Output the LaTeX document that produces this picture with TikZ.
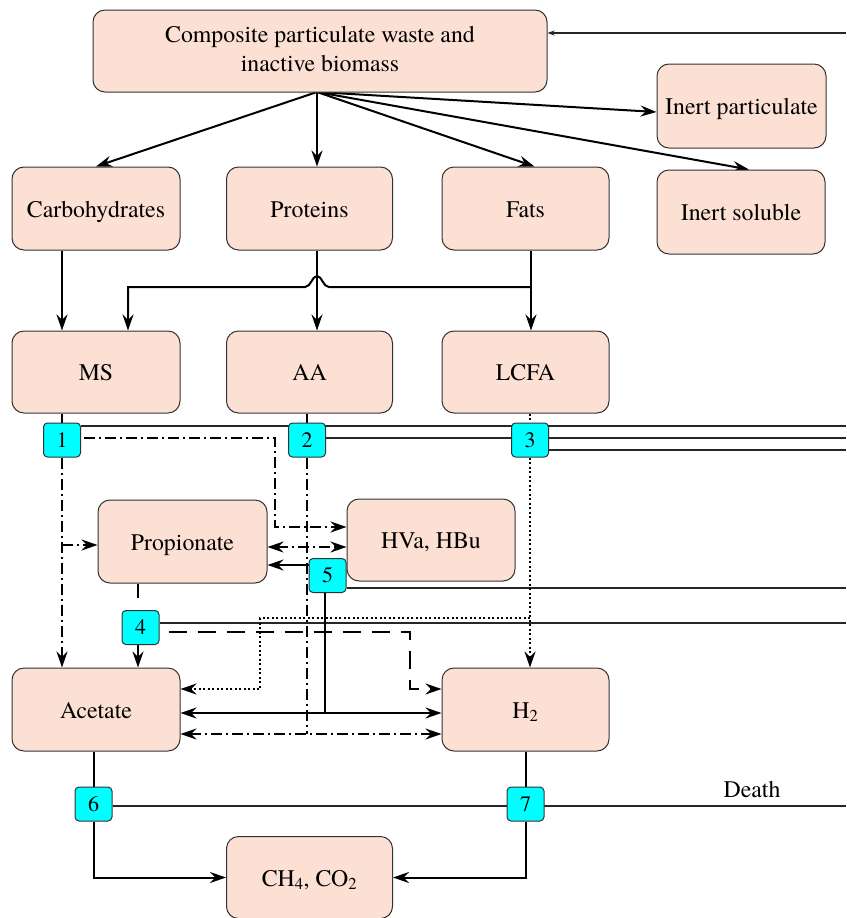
\documentclass[tikz,border=0pt]{standalone}
\usepackage{fontspec}
\setmainfont{TeX Gyre Termes}
\usetikzlibrary{arrows.meta,calc,backgrounds}
\definecolor{peach}{RGB}{252,224,211}
\definecolor{tagcyan}{RGB}{0,255,255}

\begin{document}
\begin{tikzpicture}[x=1pt,y=-1pt,
  boxcore/.style={draw=black!80, line width=1pt, fill=peach, rounded corners=12pt,
    minimum width=168pt, minimum height=83pt, inner sep=0pt, align=center,
    font=\fontsize{23.8}{29}\selectfont},
  box/.style={boxcore, text height=18pt, text depth=1pt},
  tag/.style={draw=black!80, line width=1pt, fill=tagcyan, rounded corners=4pt,
    minimum width=37pt, minimum height=34pt, inner sep=0pt,
    font=\fontsize{22}{22}\selectfont},
  conn/.style={line width=2pt, black},
  thinline/.style={line width=1.1pt, black!85},
  dd/.style={conn, dash pattern=on 11pt off 4pt on 2pt off 4pt},
  dotln/.style={conn, dash pattern=on 2pt off 2.5pt},
  dsh/.style={conn, dash pattern=on 18pt off 11pt},
  arr/.style={-{Stealth[length=16pt,width=11pt,inset=5.5pt]}},
  dbl/.style={{Stealth[length=16pt,width=11pt,inset=5.5pt]}-{Stealth[length=16pt,width=11pt,inset=5.5pt]}},
  smallarr/.style={-{Stealth[length=7pt,width=5pt,inset=2pt]}},
]
\useasboundingbox (0,0) rectangle (846,918);

% process boxes
\node[boxcore, minimum width=454pt, minimum height=82pt] (comp) at (320,51)
  {\raisebox{2pt}{\begin{tabular}{@{}c@{}}Composite particulate waste and\\inactive biomass\end{tabular}}};
\node[box, minimum width=169pt, minimum height=84pt] (inpart) at (741.5,106) {Inert particulate};
\node[box, minimum height=84pt] (insol) at (741,212) {Inert soluble};
\node[box] (carb) at (96,208.5) {Carbohydrates};
\node[box, minimum width=166pt] (prot) at (309.5,208.5) {Proteins};
\node[box, minimum width=167pt] (fats) at (525.5,208.5) {Fats};
\node[box, minimum height=82pt] (ms) at (96,372) {MS};
\node[box, minimum width=166pt, minimum height=82pt] (aa) at (309.5,372) {AA};
\node[box, minimum width=167pt, minimum height=82pt] (lcfa) at (525.5,372) {LCFA};
\node[box, minimum width=169pt] (prop) at (182.5,541.5) {Propionate};
\node[box, minimum height=82pt] (hva) at (431,540) {HVa, HBu};
\node[box] (acet) at (96,709.5) {Acetate};
\node[box, minimum width=167pt] (h2) at (525.5,709.5) {H\textsubscript{2}};
\node[box, minimum width=166pt, minimum height=82pt] (ch4) at (309.5,877.5)
  {CH\textsubscript{4}, CO\textsubscript{2}};

% process tags
\node[tag] (n1) at (62,440) {1};
\node[tag] (n2) at (307,440) {2};
\node[tag] (n3) at (530,440) {3};
\node[tag] (n4) at (140.5,627.5) {4};
\node[tag] (n5) at (327.5,575.5) {5};
\node[tag] (n6) at (93.5,804) {6};
\node[tag] (n7) at (525.5,804) {7};

\node[font=\fontsize{23.8}{29}\selectfont] (death) at (752,789) {Death};

% helper coordinates
\coordinate (src) at (317,92);
\coordinate (cA) at (62,0);
\coordinate (cB) at (128,0);
\coordinate (cF) at (531,0);
\coordinate (hop) at (0,287);
\coordinate (r0) at (846,33);
\coordinate (r1) at (846,426);
\coordinate (r2) at (846,438);
\coordinate (r3) at (846,450);
\coordinate (r5) at (846,588);
\coordinate (r4) at (846,623);
\coordinate (r6) at (846,806);
\coordinate (j5) at (324.5,713);

\begin{pgfonlayer}{background}
  % decay lines back to the composite pool
  \draw[thinline, smallarr] (r0) -- (comp.east |- r0);
  \draw[thinline] (n1.east |- r1) -- (r1);
  \draw[thinline] (n2.east |- r2) -- (r2);
  \draw[thinline] (n3.east |- r3) -- (r3);
  \draw[thinline] (n5.east |- r5) -- (r5);
  \draw[thinline] (n4.east |- r4) -- (r4);
  \draw[thinline] (n6.east |- r6) -- (r6);

  % disintegration
  \draw[conn, arr] (src) -- (carb.north);
  \draw[conn, arr] (src) -- (src |- prot.north);
  \draw[conn, arr] (src) -- ($(fats.north)+(9,0)$);
  \draw[conn, arr] (src) -- ($(inpart.west)+(0,6)$);
  \draw[conn, arr] (src) -- ($(insol.north)+(8,0)$);

  % hydrolysis
  \draw[conn, arr] (carb.south -| cA) -- (ms.north -| cA);
  \draw[conn, arr] (src |- prot.south) -- (src |- aa.north);
  \draw[conn, arr] (fats.south -| cF) -- (lcfa.north -| cF);
  \draw[conn, arr] (cF |- hop) -- (329,287)
    .. controls (323,287) and (322,276) .. (317,276)
    .. controls (312,276) and (311,287) .. (305,287)
    -| (ms.north -| cB);

  % uptake of MS (1)
  \draw[conn] (ms.south -| n1) -- (n1.north);
  \draw[dd, arr] ($(n1.east)+(3,-2)$) -| (275,527) -- (hva.west |- 0,527);
  \draw[dd, arr] (n1.south) -- (n1.south |- acet.north);
  \draw[dd, arr] (n1.south |- 0,545) -- (prop.west |- 0,545);

  % uptake of AA (2)
  \draw[conn] (aa.south -| n2) -- (n2.north);
  \draw[dd] (n2.south) -- (n2.south |- 0,734);
  \draw[dd, dbl] (acet.east |- 0,734) -- (h2.west |- 0,734);
  \draw[dd, dbl] (prop.east |- 0,547) -- (hva.west |- 0,547);

  % uptake of LCFA (3)
  \draw[dotln] (lcfa.south -| n3) -- (n3.north);
  \draw[dotln, arr] (n3.south) -- (n3.south |- h2.north);
  \draw[dotln, arr] (n3.south |- 0,618) -| (260,689) -- (acet.east |- 0,689);

  % uptake of propionate (4)
  \draw[conn] ($(n4.north |- prop.south)+(-2.5,0)$) -- ++(0,14);
  \draw[conn, arr] ($(n4.south)+(-2.5,0)$) -- ($(n4.south |- acet.north)+(-2.5,0)$);
  \draw[dsh, arr] ($(n4.east)+(9,4)$) -| (410,689) -- (h2.west |- 0,689);

  % uptake of HVa, HBu (5)
  \draw[conn, arr] (n5.west |- 0,565) -- (prop.east |- 0,565);
  \draw[conn] ($(n5.south)+(-3,0)$) -- (j5);
  \draw[conn, dbl] (acet.east |- j5) -- (h2.west |- j5);

  % methanogenesis (6, 7)
  \draw[conn] (acet.south -| n6) -- (n6.north);
  \draw[conn, arr] (n6.south) |- (ch4.west);
  \draw[conn] (h2.south -| n7) -- (n7.north);
  \draw[conn, arr] (n7.south) |- (ch4.east);
\end{pgfonlayer}
\end{tikzpicture}
\end{document}
